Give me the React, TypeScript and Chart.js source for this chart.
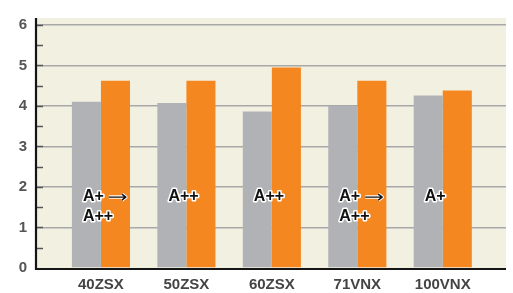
import React, { useEffect, useRef } from "react";
import { Chart, registerables } from "chart.js";

Chart.register(...registerables);

const categories = ["40ZSX", "50ZSX", "60ZSX", "71VNX", "100VNX"];
const grayValues = [4.1, 4.07, 3.86, 4.0, 4.26];
const orangeValues = [4.62, 4.62, 4.95, 4.62, 4.38];
const ratingLine1 = ["A+", "A++", "A++", "A+", "A+"];
const ratingArrow = [true, false, false, true, false];
const ratingLine2 = ["A++", "", "", "A++", ""];
const yTickValues = [0, 0.5, 1, 1.5, 2, 2.5, 3, 3.5, 4, 4.5, 5, 5.5, 6];

const FONT = '"Liberation Sans", Arial, Helvetica, sans-serif';

const decorPlugin = {
  id: "decor",
  beforeDraw(chart: any) {
    const { ctx, chartArea } = chart;
    ctx.save();
    ctx.fillStyle = "#F2F0E0";
    ctx.fillRect(chartArea.left, chartArea.top, chartArea.right - chartArea.left, chartArea.bottom - chartArea.top);
    ctx.restore();
  },
  afterDatasetsDraw(chart: any) {
    const { ctx, chartArea, scales } = chart;
    const xs = scales.x;
    const ys = scales.y;
    ctx.save();
    ctx.strokeStyle = "#555555";
    ctx.lineWidth = 1.5;
    yTickValues.forEach((v) => {
      if (v === 0) return;
      const y = Math.round(ys.getPixelForValue(v)) + 0.5;
      ctx.beginPath();
      ctx.moveTo(chartArea.left, y);
      ctx.lineTo(chartArea.left + 7, y);
      ctx.stroke();
    });
    ctx.strokeStyle = "#151515";
    ctx.lineWidth = 2.2;
    ctx.beginPath();
    ctx.moveTo(chartArea.left, chartArea.top);
    ctx.lineTo(chartArea.left, chartArea.bottom + 1);
    ctx.lineTo(chartArea.right, chartArea.bottom + 1);
    ctx.stroke();

    ctx.font = "bold 16px " + FONT;
    ctx.textBaseline = "middle";
    ctx.textAlign = "left";
    ctx.lineJoin = "round";
    const y1 = ys.getPixelForValue(1.75);
    const y2 = ys.getPixelForValue(1.27);
    const drawOutlined = (t: string, x: number, y: number) => {
      ctx.lineWidth = 3;
      ctx.strokeStyle = "#ffffff";
      ctx.strokeText(t, x, y);
      ctx.fillStyle = "#111111";
      ctx.fillText(t, x, y);
    };
    categories.forEach((_, i) => {
      const x = xs.getPixelForValue(i) - 18;
      drawOutlined(ratingLine1[i], x, y1);
      if (ratingArrow[i]) {
        const w = ctx.measureText(ratingLine1[i]).width;
        const ax0 = x + w + 5;
        const ax1 = ax0 + 17;
        const path = () => {
          ctx.beginPath();
          ctx.moveTo(ax0, y1);
          ctx.lineTo(ax1, y1);
          ctx.moveTo(ax1 - 4, y1 - 3);
          ctx.lineTo(ax1, y1);
          ctx.lineTo(ax1 - 4, y1 + 3);
        };
        ctx.strokeStyle = "#ffffff";
        ctx.lineWidth = 3.5;
        path();
        ctx.stroke();
        ctx.strokeStyle = "#111111";
        ctx.lineWidth = 1.4;
        path();
        ctx.stroke();
      }
      if (ratingLine2[i]) drawOutlined(ratingLine2[i], x, y2);
    });
    ctx.restore();
  },
};

export default function App() {
  const canvasRef = useRef<HTMLCanvasElement | null>(null);

  useEffect(() => {
    document.body.style.margin = "0";
    const canvas = canvasRef.current;
    if (!canvas) return;
    const chart = new Chart(canvas, {
      type: "bar",
      data: {
        datasets: [
          {
            label: "gray",
            data: grayValues.map((v, i) => ({ x: i, y: v })),
            backgroundColor: "#B1B2B5",
            borderWidth: 0,
            categoryPercentage: 0.68,
            barPercentage: 1,
          },
          {
            label: "orange",
            data: orangeValues.map((v, i) => ({ x: i, y: v })),
            backgroundColor: "#F58720",
            borderWidth: 0,
            categoryPercentage: 0.68,
            barPercentage: 1,
          },
        ],
      },
      options: {
        animation: false,
        responsive: false,
        maintainAspectRatio: false,
        devicePixelRatio: 1,
        layout: { padding: { top: 9, right: 7, left: 0, bottom: 0 } },
        plugins: { legend: { display: false }, tooltip: { enabled: false } },
        scales: {
          x: {
            type: "linear",
            offset: false,
            min: -0.76,
            max: 4.74,
            afterBuildTicks: (scale: any) => {
              scale.ticks = categories.map((_, i) => ({ value: i }));
            },
            afterFit: (scale: any) => {
              scale.height = 25;
            },
            grid: { display: false, drawTicks: false, offset: false },
            border: { display: false },
            ticks: {
              padding: 8,
              color: "#444444",
              font: { family: FONT, size: 15, weight: "bold" },
              autoSkip: false,
              maxRotation: 0,
              callback: (v: any) => categories[Math.round(Number(v))] ?? "",
            },
          },
          y: {
            min: 0,
            max: 6.17,
            afterBuildTicks: (scale: any) => {
              scale.ticks = yTickValues.map((v) => ({ value: v }));
            },
            afterFit: (scale: any) => {
              scale.width = 36;
            },
            grid: {
              drawTicks: false,
              color: (c: any) =>
                c.tick && Number.isInteger(c.tick.value) && c.tick.value !== 0 ? "#A8A8A8" : "rgba(0,0,0,0)",
              lineWidth: 1.5,
            },
            border: { display: false },
            ticks: {
              padding: 9,
              color: "#555555",
              font: { family: FONT, size: 15, weight: "bold" },
              autoSkip: false,
              callback: (v: any) => (Number.isInteger(Number(v)) ? String(v) : ""),
            },
          },
        },
      } as any,
      plugins: [decorPlugin],
    });
    return () => chart.destroy();
  }, []);

  return (
    <div style={{ width: 513, height: 293 }}>
      <canvas ref={canvasRef} width={513} height={293} style={{ display: "block" }} />
    </div>
  );
}
